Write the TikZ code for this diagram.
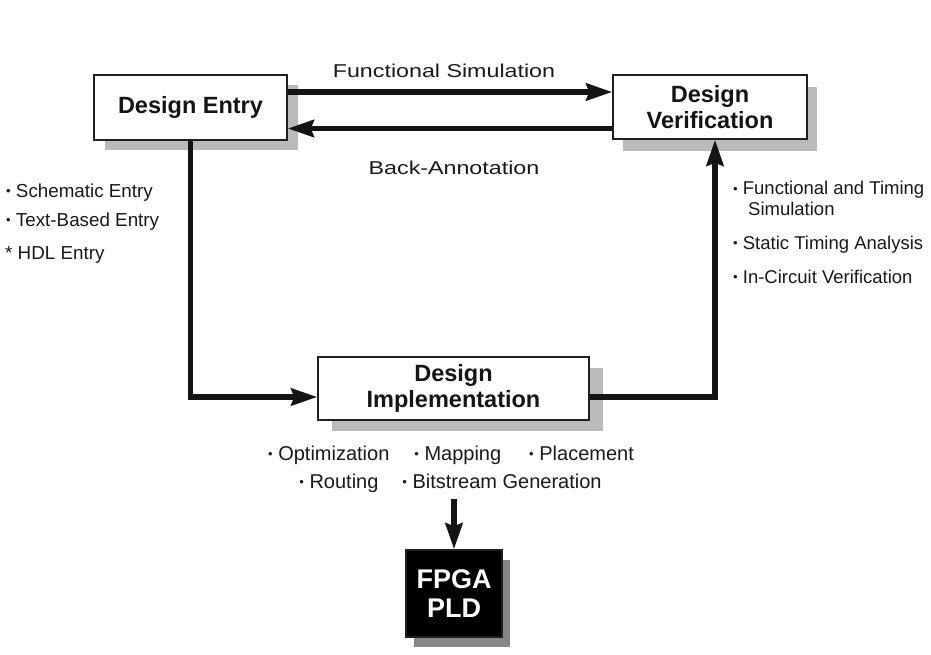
\documentclass[tikz,border=0pt]{standalone}
\usepackage{fontspec}
\setmainfont{Liberation Sans}
\newfontfamily\widefont[FakeStretch=1.25]{Liberation Sans}
\usetikzlibrary{arrows.meta,shadows}
\newcommand\dotmark{\raisebox{1.2pt}{\fontsize{13}{13}\selectfont •}}

\begin{document}
\begin{tikzpicture}[x=1pt,y=-1pt,
  stage/.style={draw=black!88, line width=1.5pt, fill=white, align=center,
    inner sep=0pt, text=black!92, font=\fontsize{23.5}{25.5}\selectfont\bfseries},
  shade/.style n args={3}{drop shadow={shadow xshift=#1pt, shadow yshift=-#2pt,
    fill=#3, opacity=1, draw=none}},
  conn/.style={line width=5.5pt, draw=black!92,
    -{Stealth[length=26pt,width=17pt,inset=3pt]}},
  flowlabel/.style={font=\widefont\fontsize{18.6}{20}\selectfont, inner sep=0pt,
    anchor=base, text=black!90},
  item/.style={font=\fontsize{18.8}{21}\selectfont, inner sep=0pt,
    anchor=base west, text=black!90},
  ritem/.style={item, font=\fontsize{18.5}{21}\selectfont},
  opsline/.style={font=\fontsize{20}{22}\selectfont, inner sep=0pt, anchor=base,
    text=black!90},
]
\useasboundingbox (0,0) rectangle (931,655);

% process stages
\node[stage, shade={11}{10}{black!27}, minimum width=193pt, minimum height=65pt]
  (entry) at (190.5,107.5) {Design Entry};
\node[stage, shade={10}{12}{black!27}, minimum width=194pt, minimum height=64pt]
  (verify) at (710,107) {Design\\Verification};
\node[stage, shade={14}{11}{black!27}, minimum width=271pt, minimum height=63pt]
  (impl) at (453.5,388.5) {Design\\[1pt]Implementation};
\node[stage, shade={8}{10}{black!47}, fill=black, text=white,
  minimum width=96pt, minimum height=87pt,
  font=\fontsize{27}{29}\selectfont\bfseries] (chip) at (454,593.5) {FPGA\\PLD};

% flow between entry and verification
\draw[conn] ([yshift=15.5pt]entry.east) -- ([yshift=15.5pt]entry.east -| verify.west);
\draw[conn] ([yshift=-21.5pt]verify.west) -- ([yshift=-21.5pt]verify.west -| entry.east);
\node[flowlabel] (fslabel) at (444,78) {Functional Simulation};
\node[flowlabel] (balabel) at (454,175) {Back-Annotation};

% main loop
\draw[conn] (entry.south) |- ([yshift=-8.5pt]impl.west);
\draw[conn] ([yshift=-8.5pt]impl.east) -| ([xshift=5pt]verify.south);

% output to the device
\coordinate (feed) at (454,499);
\draw[conn] (feed) -- (chip.north);

% entry methods
\node[item] (e1) at (6,197) {\dotmark\ Schematic Entry};
\node[item] (e2) at (6,226) {\dotmark\ Text-Based Entry};
\node[item] (e3) at (5,259) {* HDL Entry};

% verification methods
\node[ritem] (v1) at (733,195) {\dotmark\ Functional and Timing};
\node[ritem] (v1b) at (748,215) {Simulation};
\node[ritem] (v2) at (733,249) {\dotmark\ Static Timing Analysis};
\node[ritem] (v3) at (733,283) {\dotmark\ In-Circuit Verification};

% implementation steps
\node[opsline] (ops1) at (451,460)
  {\dotmark\ Optimization\hspace{25pt}\dotmark\ Mapping\hspace{28pt}\dotmark\ Placement};
\node[opsline] (ops2) at (450.5,488)
  {\dotmark\ Routing\hspace{24pt}\dotmark\ Bitstream Generation};
\end{tikzpicture}
\end{document}
